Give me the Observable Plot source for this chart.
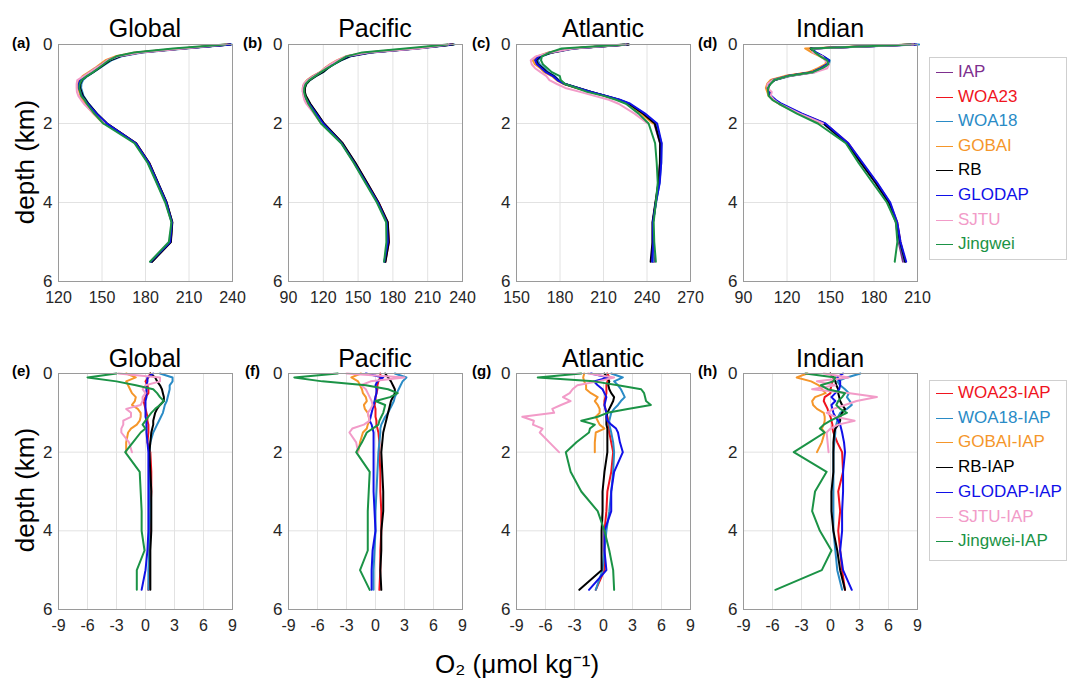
<!DOCTYPE html>
<html><head><meta charset="utf-8">
<script src="https://cdn.jsdelivr.net/npm/d3@7"></script>
<script src="https://cdn.jsdelivr.net/npm/@observablehq/plot@0.6"></script>
<style>
body{margin:0;background:#fff;font-family:"Liberation Sans",Arial,Helvetica,sans-serif;}
#wrap{position:relative;width:1068px;height:681px;overflow:hidden;background:#fff;}
.abs{position:absolute;}
.title{font-size:25px;line-height:25px;color:#000;text-align:center;white-space:nowrap;}
.letter{font-size:15px;line-height:15px;font-weight:bold;color:#000;}
.ylab{font-size:26px;line-height:26px;color:#000;white-space:nowrap;transform:translate(-50%,-50%) rotate(-90deg);}
.xlab{font-size:26px;line-height:26px;color:#000;white-space:nowrap;transform:translate(-50%,-50%);}
.legend{border:1px solid #cfcfcf;background:#fff;box-sizing:border-box;}
.lrow{position:absolute;left:0;height:20px;font-size:17px;line-height:20px;white-space:nowrap;}
.lrow span.sw{position:absolute;left:6px;top:10px;width:17px;height:0;border-top:1.6px solid;}
.lrow span.tx{position:absolute;left:28px;top:0;}
svg{overflow:visible;}
</style>
</head><body><div id="wrap"></div>
<script>
// ---------- data ----------
const depthKm = [0, 0.1, 0.2, 0.3, 0.4, 0.5, 0.6, 0.7, 0.8, 0.9, 1.0, 1.1, 1.2, 1.3, 1.4, 1.5, 1.75, 2.0, 2.5, 3.0, 3.5, 4.0, 4.5, 5.0, 5.5];
const basins = ["Global", "Pacific", "Atlantic", "Indian"];
const topLetters = ["(a)", "(b)", "(c)", "(d)"];
const bottomLetters = ["(e)", "(f)", "(g)", "(h)"];
const datasetNames = ["WOA23", "WOA18", "GOBAI", "RB", "GLODAP", "SJTU", "Jingwei"];
const seriesColors = {IAP:"#7E2F8E", WOA23:"#F0141E", WOA18:"#2A8BC6", GOBAI:"#F5962A", RB:"#000000", GLODAP:"#1010E8", SJTU:"#F29BC8", Jingwei:"#1B9346"};
const topXTicks = [[120,150,180,210,240],[90,120,150,180,210,240],[150,180,210,240,270],[90,120,150,180,210]];
const bottomXTicks = [-9,-6,-3,0,3,6,9];
const depthTicks = [0,2,4,6];

// IAP O2 profiles (umol/kg)
const iapGlobal   = [238, 205, 175, 161, 154, 150, 146, 142, 138, 135, 134, 134, 135, 136, 138, 140, 146, 153, 173, 182, 188, 194, 198, 197, 184];
const iapPacific  = [231, 199, 159, 141, 133, 127, 122, 118, 112, 107, 104, 103, 103, 104, 106, 108, 114, 120, 136, 147, 157, 167, 175, 176, 173];
const iapAtlantic = [227, 188, 174, 166, 163, 164, 167, 170, 175, 178, 183, 192, 201, 211, 220, 227, 237, 245, 249, 249, 248, 246, 244, 244, 245];
const iapIndian   = [208, 136, 139, 144, 148, 147, 143, 137, 120, 110, 107, 106, 107, 108, 111, 115, 129, 145, 161, 171, 181, 190, 195, 197, 200];

// Differences from IAP (dataset - IAP)
const globalWOA23   = [0.5, 0.3, 0.0, 0.2, 0.3, 0.3, 0.0, -0.2, -0.1, 0.0, 0.1, 0.2, 0.2, 0.3, 0.3, 0.3, 0.2, 0.5, 0.6, 0.6, 0.5, 0.5, 0.4, 0.4, 0.3];
const globalWOA18   = [1.5, 2.8, 2.8, 2.5, 2.5, 2.4, 2.3, 2.2, 2.0, 1.9, 1.8, 1.6, 1.4, 1.2, 1.0, 0.8, 0.5, 0.4, 0.4, 0.4, 0.5, 0.4, 0.4, 0.3, 0.3];
const globalGOBAI   = [-2.0, -1.0, -2.0, -1.8, -1.6, -1.4, -1.0, -1.1, -1.4, -0.8, -0.5, -0.5, -0.6, -0.9, -1.5, -1.8, -2.0, -2.0];
const globalRB      = [0.5, 1.0, 1.2, 1.5, 1.7, 1.8, 1.9, 1.9, 1.5, 1.2, 1.0, 0.9, 0.8, 0.8, 0.7, 0.6, 0.5, 0.4, 0.5, 0.6, 0.6, 0.6, 0.5, 0.5, 0.5];
const globalGLODAP  = [0.8, 0.2, 0.2, 0.1, 0.1, 0.1, 0.1, 0.0, 0.0, 0.0, 0.0, 0.0, 0.1, 0.1, 0.1, 0.1, 0.2, 0.3, 0.3, 0.3, 0.3, 0.3, 0.2, 0.0, -0.4];
const globalSJTU    = [-2.8, 1.5, 1.5, 0.0, -0.3, 0.0, -0.3, -0.3, -0.5, -2.0, -1.5, -1.5, -2.3, -2.3, -2.5, -2.5, -1.7, -1.4];
const globalJingwei = [-3.0, -6.0, -3.0, -1.0, 0.8, 1.2, 1.5, 1.9, 1.5, 1.0, 0.6, 0.3, 0.0, -0.3, 0.0, -0.5, -1.3, -2.1, -0.6, -0.5, -0.4, -0.4, -0.1, -0.9, -0.9];

const pacificWOA23   = [0.5, 0.5, 0.3, 0.2, 0.2, 0.1, 0.0, 0.0, -0.1, 0.0, 0.0, 0.0, 0.1, 0.1, 0.2, 0.3, 0.4, 0.4, 0.5, 0.5, 0.6, 0.6, 0.5, 0.5, 0.4];
const pacificWOA18   = [2.0, 3.2, 2.8, 2.6, 2.4, 2.2, 2.0, 1.9, 1.7, 1.5, 1.3, 1.0, 0.8, 0.6, 0.5, 0.5, 0.4, 0.3, 0.2, 0.1, 0.0, 0.0, -0.1, -0.2, -0.2];
const pacificGOBAI   = [-1.5, -2.5, -1.8, -1.6, -1.4, -1.3, -1.0, -0.9, -1.2, -1.1, -0.8, -0.7, -0.6, -0.8, -0.9, -1.3, -1.6, -1.8];
const pacificRB      = [1.0, 1.3, 1.6, 1.8, 2.0, 2.0, 1.8, 1.6, 1.5, 1.4, 1.3, 1.2, 1.1, 1.0, 0.9, 0.8, 0.7, 0.6, 0.7, 0.8, 0.8, 0.6, 0.6, 0.5, 0.6];
const pacificGLODAP  = [-1.0, 0.8, 0.2, 0.0, 0.1, 0.1, 0.0, -0.1, -0.2, -0.3, -0.4, -0.5, -0.6, -0.4, -0.3, -0.2, -0.2, -0.2, -0.2, -0.2, -0.1, 0.0, -0.3, -0.4, -0.4];
const pacificSJTU    = [-3.0, 3.0, -0.5, -1.5, -1.0, -0.8, -0.6, -0.4, -0.3, -0.5, -0.8, -0.7, -0.6, -1.2, -2.4, -2.7, -2.0, -1.8];
const pacificJingwei = [-3.9, -8.4, -5.5, -1.0, 1.3, 2.3, 1.5, 0.0, 1.0, 0.9, 0.8, 0.6, 0.4, 0.3, -0.3, -0.9, -1.4, -2.0, -0.6, -0.7, -0.8, -0.8, -0.8, -1.6, -0.6];

const atlanticWOA23   = [0.4, 0.6, 0.4, 0.3, 0.3, 0.3, 0.2, 0.1, 0.1, 0.2, 0.3, 0.4, 0.5, 0.5, 0.6, 0.6, 0.8, 1.0, 0.8, 0.4, 0.3, 0.1, 0.1, 0.1, -0.8];
const atlanticWOA18   = [0.8, 2.0, 1.1, 1.5, 1.8, 2.0, 2.2, 1.8, 1.5, 1.1, 0.8, 0.7, 0.6, 0.6, 0.7, 0.8, 1.0, 1.1, 1.0, 0.8, 0.6, 0.3, 0.1, -0.1, -0.8];
const atlanticGOBAI   = [-2.0, -2.1, -2.0, -1.8, -1.8, -1.3, -0.6, -0.9, -0.6, -0.4, -0.4, -0.8, -0.6, -0.4, 0.1, -0.8, -0.9, -0.9];
const atlanticRB      = [0.1, 0.4, 0.6, 0.5, 0.6, 0.8, 1.1, 1.0, 0.8, 0.6, 0.4, 0.3, 0.3, 0.3, 0.4, 0.4, 0.4, 0.4, 0.1, -0.1, -0.1, -0.2, -0.2, -0.2, -2.5];
const atlanticGLODAP  = [-1.3, 0.5, -1.0, -0.6, -0.1, 0.1, 0.3, 0.2, 0.1, 0.2, 0.3, 0.3, 0.4, 0.8, 1.3, 1.5, 1.7, 2.0, 1.1, 0.8, 0.8, 0.1, 0.1, 0.3, -1.5];
const atlanticSJTU    = [-1.6, 1.1, -0.6, -2.7, -3.2, -3.5, -4.2, -3.4, -4.4, -5.3, -5.1, -8.4, -7.2, -7.3, -6.3, -6.6, -5.6, -4.6];
const atlanticJingwei = [-2.3, -6.8, -1.0, 1.5, 3.9, 4.2, 4.3, 4.4, 4.9, 2.5, 0.4, -0.6, -2.3, -0.9, -1.4, -1.5, -2.8, -3.9, -3.4, -2.3, -0.6, 0.1, 0.6, 1.0, 1.1];

const indianWOA23   = [0.0, 0.3, 0.2, 0.1, 0.0, 0.0, -0.6, -0.7, -0.5, -0.3, -0.2, 0.0, 0.1, 0.2, 0.2, 0.3, 0.7, 1.2, 1.3, 0.8, 1.0, 0.8, 1.0, 1.2, 1.5];
const indianWOA18   = [3.1, 1.7, 0.7, 1.0, 1.5, 1.9, 1.7, 2.0, 2.2, 1.7, 1.0, 0.8, 0.7, 0.6, 0.5, 0.5, 0.4, 0.3, 0.3, 0.3, 0.3, 0.3, 0.5, 0.7, 1.2];
const indianGOBAI   = [-2.4, -3.5, -2.0, -1.2, -0.9, -0.5, -1.6, -1.9, -1.8, -1.4, -0.7, -0.6, -0.6, -0.7, -0.9, -0.6, -0.9, -1.4];
const indianRB      = [0.0, 0.3, 0.5, 0.6, 0.8, 0.8, 0.9, 1.0, 1.2, 1.5, 1.2, 1.0, 1.0, 0.8, 0.5, 0.4, 0.3, 0.3, 0.3, 0.1, 0.1, 0.3, 0.7, 1.0, 1.5];
const indianGLODAP  = [1.3, 0.7, 1.0, 1.0, 0.9, 0.5, 0.1, 0.5, 0.1, 0.2, 0.3, 0.5, 0.8, 1.0, 1.1, 1.2, 1.4, 1.5, 1.3, 1.3, 1.2, 1.2, 1.0, 1.3, 2.2];
const indianSJTU    = [-0.7, 1.9, -1.4, 0.5, -1.9, 2.0, 4.8, 2.7, 1.5, 0.3, -0.4, 0.5, 2.5, 0.8, 0.0, -0.4, -0.3, -0.2];
const indianJingwei = [-2.6, 0.5, 0.3, -1.0, -0.3, 1.5, 1.2, 0.8, 0.6, 1.0, 1.7, 0.8, 0.0, -0.7, -1.1, -0.6, -2.2, -3.8, -0.4, -1.6, -1.9, -1.1, 0.1, -0.9, -5.7];

// ---------- assemble ----------
const iapByBasin = {Global: iapGlobal, Pacific: iapPacific, Atlantic: iapAtlantic, Indian: iapIndian};
const diffByBasin = {
  Global:   {WOA23: globalWOA23, WOA18: globalWOA18, GOBAI: globalGOBAI, RB: globalRB, GLODAP: globalGLODAP, SJTU: globalSJTU, Jingwei: globalJingwei},
  Pacific:  {WOA23: pacificWOA23, WOA18: pacificWOA18, GOBAI: pacificGOBAI, RB: pacificRB, GLODAP: pacificGLODAP, SJTU: pacificSJTU, Jingwei: pacificJingwei},
  Atlantic: {WOA23: atlanticWOA23, WOA18: atlanticWOA18, GOBAI: atlanticGOBAI, RB: atlanticRB, GLODAP: atlanticGLODAP, SJTU: atlanticSJTU, Jingwei: atlanticJingwei},
  Indian:   {WOA23: indianWOA23, WOA18: indianWOA18, GOBAI: indianGOBAI, RB: indianRB, GLODAP: indianGLODAP, SJTU: indianSJTU, Jingwei: indianJingwei}
};

const FONT = '"Liberation Sans", Arial, Helvetica, sans-serif';
const wrap = document.getElementById("wrap");
const frameLefts = [58, 288, 516, 743];
const frameW = 174;
const topFrame = {top: 44, h: 237};
const botFrame = {top: 373, h: 236};
const mL = 40, mR = 14, mT = 8, mB = 34;

function addDiv(cls, html, css) {
  const d = document.createElement("div");
  d.className = "abs " + cls;
  d.innerHTML = html;
  Object.assign(d.style, css);
  wrap.appendChild(d);
  return d;
}

function panel(series, xDomain, xTicks, left, frame) {
  const marks = [
    Plot.gridX(xTicks, {stroke: "#e2e2e2", strokeOpacity: 1, strokeWidth: 1}),
    Plot.gridY([2, 4], {stroke: "#e2e2e2", strokeOpacity: 1, strokeWidth: 1}),
    ...series.map(s => Plot.line(s.points, {x: "v", y: "d", stroke: s.color, strokeWidth: 2, strokeLinejoin: "round"})),
    Plot.frame({stroke: "#9a9a9a", strokeWidth: 1}),
    Plot.axisX(xTicks, {tickSize: 0, tickPadding: 10, label: null, tickFormat: d => String(d), fill: "#262626", fontSize: 16}),
    Plot.axisY(depthTicks, {tickSize: 0, tickPadding: 6, label: null, tickFormat: d => String(d), fill: "#262626", fontSize: 17})
  ];
  const svg = Plot.plot({
    width: frameW + mL + mR,
    height: frame.h + mT + mB,
    marginLeft: mL, marginRight: mR, marginTop: mT, marginBottom: mB,
    x: {domain: xDomain, label: null},
    y: {domain: [0, 6], reverse: true, label: null},
    style: {fontSize: "16px", fontFamily: FONT, background: "transparent", overflow: "visible", color: "#262626"},
    marks
  });
  svg.style.position = "absolute";
  svg.style.left = (left - mL) + "px";
  svg.style.top = (frame.top - mT) + "px";
  wrap.appendChild(svg);
}

const topDomains = topXTicks.map(t => [t[0], t[t.length - 1]]);

basins.forEach((b, i) => {
  const iap = iapByBasin[b];
  const diffs = diffByBasin[b];
  // top row: absolute profiles
  const topSeries = [{color: seriesColors.IAP, points: iap.map((v, k) => ({d: depthKm[k], v}))}];
  datasetNames.forEach(n => {
    topSeries.push({color: seriesColors[n], points: diffs[n].map((dv, k) => ({d: depthKm[k], v: iap[k] + dv}))});
  });
  panel(topSeries, topDomains[i], topXTicks[i], frameLefts[i], topFrame);
  // bottom row: differences
  const botSeries = datasetNames.map(n => ({color: seriesColors[n], points: diffs[n].map((dv, k) => ({d: depthKm[k], v: dv}))}));
  panel(botSeries, [-9, 9], bottomXTicks, frameLefts[i], botFrame);

  addDiv("title", b, {left: frameLefts[i] + "px", width: frameW + "px", top: "16px"});
  addDiv("title", b, {left: frameLefts[i] + "px", width: frameW + "px", top: "346px"});
});

const letterLeftsTop = [12, 243, 472, 698];
const letterLeftsBot = [12, 245, 472, 698];
topLetters.forEach((t, i) => addDiv("letter", t, {left: letterLeftsTop[i] + "px", top: "35px"}));
bottomLetters.forEach((t, i) => addDiv("letter", t, {left: letterLeftsBot[i] + "px", top: "363px"}));

addDiv("ylab", "depth (km)", {left: "25px", top: "162px"});
addDiv("ylab", "depth (km)", {left: "25px", top: "490px"});
addDiv("xlab", "O₂ (μmol kg⁻¹)", {left: "517px", top: "664px"});

function legend(names, labels, top, height, firstRow, step) {
  const box = addDiv("legend", "", {left: "929px", top: top + "px", width: "138px", height: height + "px"});
  names.forEach((n, k) => {
    const r = document.createElement("div");
    r.className = "lrow";
    r.style.top = (firstRow + k * step - top - 10 - 1) + "px";
    r.innerHTML = `<span class="sw" style="border-top-color:${seriesColors[n]}"></span><span class="tx" style="color:${seriesColors[n]}">${labels[k]}</span>`;
    box.appendChild(r);
  });
}
const legendTopNames = ["IAP", ...datasetNames];
legend(legendTopNames, legendTopNames, 57, 203, 72, 24.6);
legend(datasetNames, datasetNames.map(n => n + "-IAP"), 380, 181, 393, 24.7);
</script>
</body></html>
